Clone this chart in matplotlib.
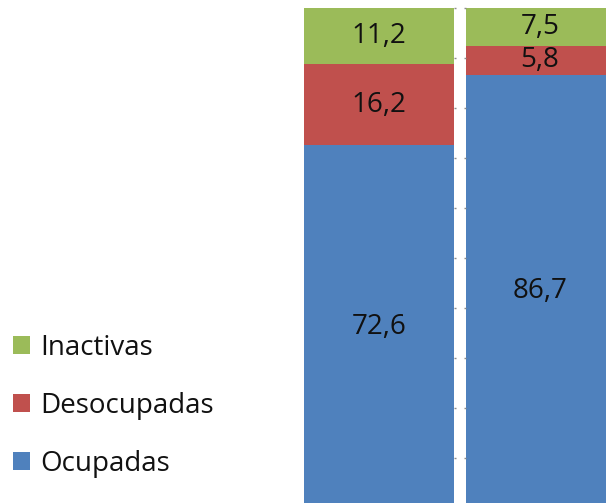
import matplotlib
matplotlib.use("Agg")
import matplotlib.pyplot as plt

series = ["Ocupadas", "Desocupadas", "Inactivas"]
bar1_values = [72.6, 16.2, 11.2]
bar2_values = [86.7, 5.8, 7.5]
colors = ["#4F81BD", "#C0504D", "#9BBB59"]
yticks = list(range(0, 101, 10))

plt.rcParams['font.family'] = ['Open Sans', 'DejaVu Sans']
FS = 20
W, H = 606, 503
fig = plt.figure(figsize=(W / 100, H / 100), dpi=100)

ax1 = fig.add_axes([304 / W, -5 / H, 150 / W, 500 / H])
ax2 = fig.add_axes([466 / W, -5 / H, 148 / W, 500 / H])

handles = []
for ax, vals, side in [(ax1, bar1_values, "right"), (ax2, bar2_values, "left")]:
    bottom = 0
    for name, v, c in zip(series, vals, colors):
        b = ax.bar([0], [v], bottom=bottom, width=1.0, color=c, label=name)
        ax.bar_label(b, labels=[f"{v:.1f}".replace(".", ",")], label_type="center",
                     fontsize=FS, color="#111111")
        bottom += v
        if ax is ax1:
            handles.append(b)
    ax.set_xlim(-0.5, 0.5)
    ax.set_ylim(0, 100)
    for s in ax.spines.values():
        s.set_visible(False)
    ax.set_xticks([])
    ax.set_yticks(yticks)
    ax.tick_params(axis="y", which="both", left=(side == "left"), right=(side == "right"),
                   labelleft=False, labelright=False, direction="out",
                   length=1.6, width=1, color="#8c8c8c")

leg = fig.legend(handles[::-1], series[::-1], loc="center left",
                 bbox_to_anchor=(13 / W, 1 - 406 / H), frameon=False,
                 fontsize=FS, handlelength=0.62, handleheight=0.62,
                 handletextpad=0.36, labelspacing=1.08, borderpad=0,
                 borderaxespad=0)
for t in leg.get_texts():
    t.set_color("#111111")

fig.savefig("out.png", dpi=100)
